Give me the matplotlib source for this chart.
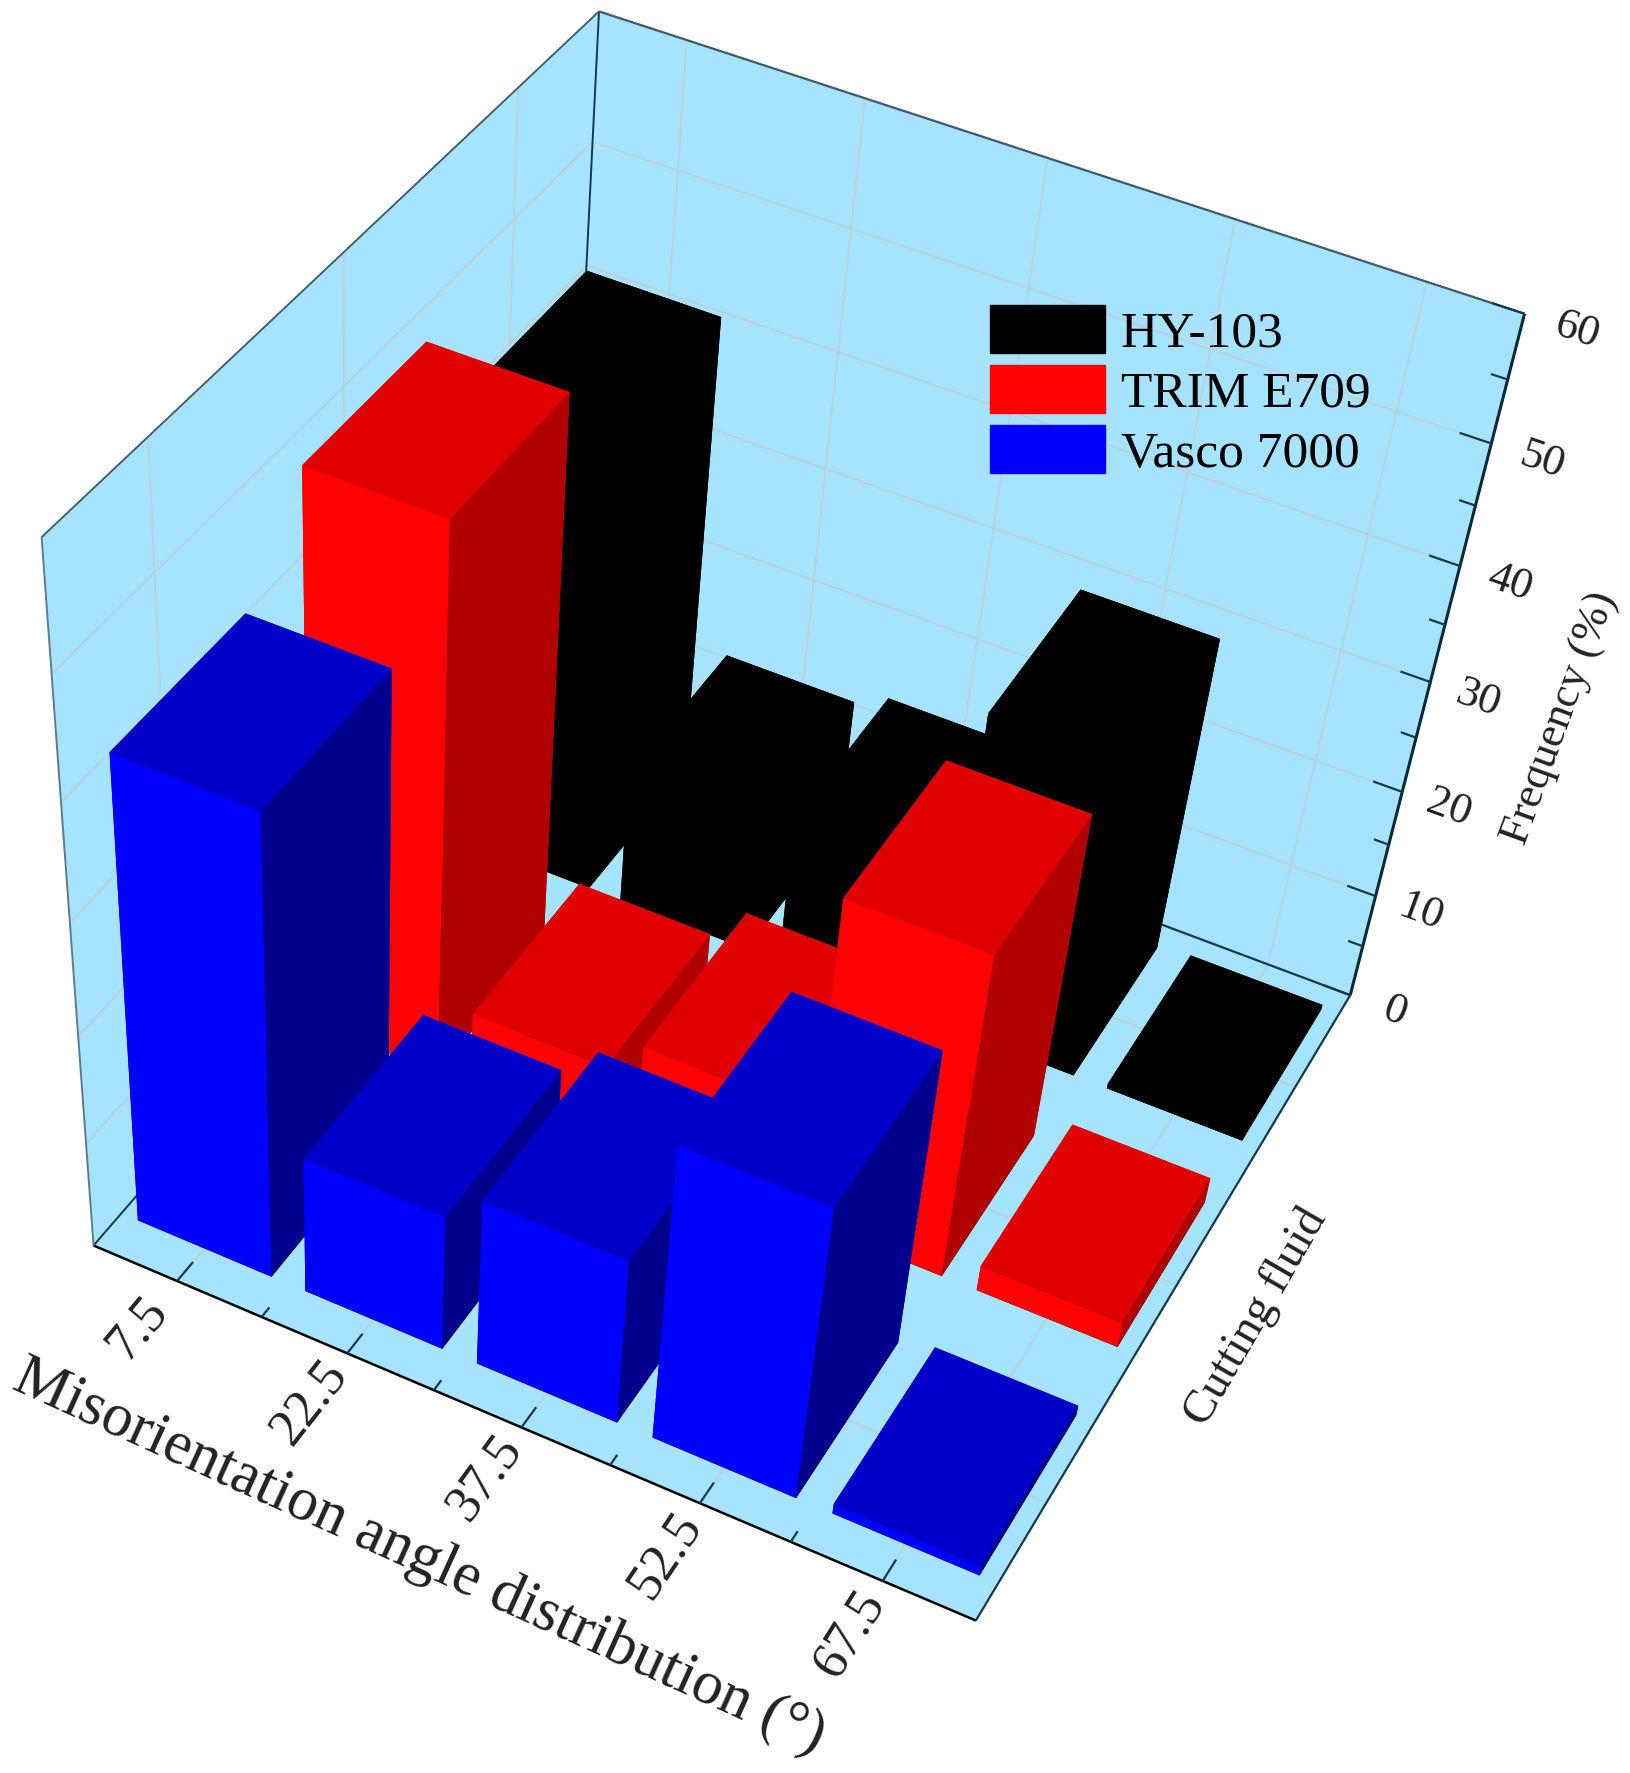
import matplotlib
matplotlib.use('Agg')
import matplotlib.pyplot as plt
from matplotlib.patches import Patch
from mpl_toolkits.mplot3d import proj3d
from mpl_toolkits.mplot3d.art3d import Line3DCollection
import numpy as np

# values
angles = [7.5, 22.5, 37.5, 52.5, 67.5]
minor_angles = [15, 30, 45, 60]
fluids = ['Vasco 7000', 'TRIM E709', 'HY-103']
vasco = [42, 13, 16, 28, 1]
trim = [49, 7.2, 10.5, 30.5, 2.5]
hy = [41.5, 12.5, 14, 29.5, 0.5]
freq_ticks = [0, 10, 20, 30, 40, 50, 60]

# where the corners of the box sit in the picture, used to fit the camera
box_corners = [(0, 0, 0), (75, 0, 0), (75, 3, 0), (0, 3, 0),
               (0, 0, 60), (0, 3, 60), (75, 3, 60)]
corner_px = [(87, 1240), (978, 1623), (1348, 992), (571, 707),
             (47, 541), (594, 7), (1525, 315)]

series = [vasco, trim, hy]
# top, front, side colours for each row
shades = [('#0000C8', '#0000FF', '#00008C'),
          ('#E00000', '#FF0000', '#B00000'),
          ('#000000', '#000000', '#000000')]
pane_col = '#A6E3FF'
edge_col = '#12394D'
grid_col = '#C0D0D8'
text_col = '#222222'
serif = 'Liberation Serif'

fig = plt.figure(figsize=(16.31, 17.73), dpi=100)
ax = fig.add_axes([0, 0, 1, 1], projection='3d')
ax.computed_zorder = False

ax.set_xlim(0, 75)
ax.set_ylim(0, 3)
ax.set_zlim(0, 60)
ax.set_xticks(angles)
ax.set_yticks([0.5, 1.5, 2.5])
ax.set_zticks(freq_ticks)
ax.set_xticklabels([])
ax.set_yticklabels([])
ax.set_zticklabels([])
ax.tick_params(color=(0, 0, 0, 0), length=0)
for a in (ax.xaxis, ax.yaxis, ax.zaxis):
    a.set_pane_color(pane_col)
    a.pane.set_edgecolor(pane_col)
    a._axinfo['grid']['color'] = grid_col
    a._axinfo['grid']['linewidth'] = 1.2
    a.line.set_color((0, 0, 0, 0))
    a._axinfo['tick']['inward_factor'] = 0
    a._axinfo['tick']['outward_factor'] = 0

# fit a projection matrix to the corners, the view is not one view_init can give
fig.canvas.draw()
to_view = ax.transData.inverted()
rows = []
rhs = []
for (x, y, z), (px, py) in zip(box_corners, corner_px):
    u, v = to_view.transform((px, 1773 - py))
    rows.append([x, y, z, 1, 0, 0, 0, 0, -u * x, -u * y, -u * z])
    rows.append([0, 0, 0, 0, x, y, z, 1, -v * x, -v * y, -v * z])
    rhs += [u, v]
p = np.linalg.lstsq(np.array(rows), np.array(rhs), rcond=None)[0]
row_w = np.array([p[8], p[9], p[10], 1.0])
# depth only has to grow away from the viewer
row_d = 0.02 * np.array([-1 / 75, 1 / 3, -1 / 60, 0]) + row_w
proj = np.array([p[:4], p[4:8], row_d, row_w])
ax.get_proj = lambda: proj


def to_screen(x, y, z):
    u, v, _ = proj3d.proj_transform(x, y, z, proj)
    return u, v


def label_3d(x, y, z, direction, s, size):
    # text at a box position, turned along a direction of the box
    u0, v0 = to_screen(x, y, z)
    u1, v1 = to_screen(x + direction[0], y + direction[1], z)
    d0 = ax.transData.transform((u0, v0))
    d1 = ax.transData.transform((u1, v1))
    angle = np.degrees(np.arctan2(d1[1] - d0[1], d1[0] - d0[0]))
    ax.text2D(u0, v0, s, transform=ax.transData, family=serif, size=size,
              rotation=angle, ha='center', va='center', color=text_col)


# box edges
edges = [([0, 0, 0], [75, 0, 0], 'k', 1.8),
         ([75, 0, 0], [75, 3, 0], edge_col, 1.6),
         ([0, 3, 0], [75, 3, 0], edge_col, 1.6),
         ([0, 0, 0], [0, 3, 0], edge_col, 1.4),
         ([0, 0, 0], [0, 0, 60], '#5E7C8C', 1.4),
         ([75, 3, 0], [75, 3, 60], '#0A2A3A', 2.2),
         ([0, 3, 0], [0, 3, 60], edge_col, 1.4),
         ([0, 0, 60], [0, 3, 60], '#3E5C6C', 1.3),
         ([0, 3, 60], [75, 3, 60], '#3E5C6C', 1.6)]
# tick marks pointing into the floor and the wall
for a in angles:
    edges.append(([a, 0, 0], [a, 0.09, 0], edge_col, 1.6))
for a in minor_angles:
    edges.append(([a, 0, 0], [a, 0.045, 0], edge_col, 1.6))
for v in freq_ticks:
    edges.append(([75, 3, v], [72.5, 3, v], edge_col, 1.6))
    if v < 60:
        edges.append(([75, 3, v + 5], [73.7, 3, v + 5], edge_col, 1.6))
ax.add_collection3d(Line3DCollection([e[:2] for e in edges],
                                     colors=[e[2] for e in edges],
                                     linewidths=[e[3] for e in edges],
                                     zorder=1, clip_on=False),
                    autolim=False)

# bars, back row first so nearer ones cover them
bw = 12.0
bd = 0.70
for row in range(2, -1, -1):
    top, front, side = shades[row]
    for i, v in enumerate(series[row]):
        bars = ax.bar3d(angles[i] - bw / 2, row + 0.155 + 0.015 * row, 0, bw, bd, v,
                        color=['k', top, front, front, side, side],
                        shade=False, linewidth=0, zorder=10 + (2 - row) * 10 + i)
        bars.set_clip_on(False)

# tick labels, they lie in the direction of the other floor axis
for a in angles:
    label_3d(a, -0.22, 0, (0, 0.1), str(a), 38)
for v in freq_ticks:
    label_3d(79, 3, v, (1, 0), str(v), 32)

fig.text(0.257, 0.122, 'Misorientation angle distribution (°)', family=serif,
         size=44, rotation=-24.4, ha='center', va='center', color=text_col)
fig.text(0.77, 0.257, 'Cutting fluid', family=serif, size=34, rotation=60,
         ha='center', va='center', color=text_col)
fig.text(0.957, 0.595, 'Frequency (%)', family=serif, size=32, rotation=70,
         ha='center', va='center', color=text_col)

handles = [Patch(color=shades[r][1]) for r in (2, 1, 0)]
fig.legend(handles, [fluids[2], fluids[1], fluids[0]], loc='upper left',
           bbox_to_anchor=(0.607, 0.828), frameon=False, borderpad=0,
           borderaxespad=0, prop={'family': serif, 'size': 37}, handlelength=2.24,
           handleheight=1.06, labelspacing=0.15, handletextpad=0.3)

fig.savefig('out.png', dpi=100)
